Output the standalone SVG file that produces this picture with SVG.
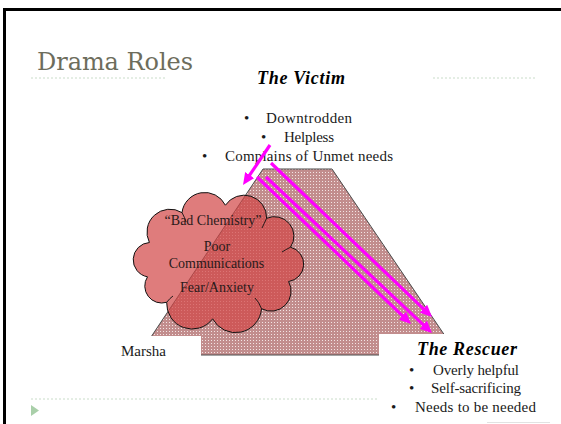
<svg xmlns="http://www.w3.org/2000/svg" width="561" height="424" viewBox="0 0 561 424">
<style>
.body{font-family:"Liberation Serif","Times New Roman",serif;font-size:15px;fill:#1a1a1a}
.head{font-family:"Liberation Serif","Times New Roman",serif;font-size:18px;font-weight:bold;font-style:italic;fill:#000}
.cl{font-family:"Liberation Serif","Times New Roman",serif;font-size:14px;fill:#2a1a1a;text-anchor:middle}
.dash{stroke:#c9dcc9;stroke-width:1;stroke-dasharray:2 2;fill:none}
.arr{stroke:#ff00ff;stroke-width:3.2;fill:none;marker-end:url(#ah)}
</style>
<defs>
<pattern id="dots" width="3" height="3" patternUnits="userSpaceOnUse">
<rect width="3" height="3" fill="#c28d8d"/>
<rect x="1" y="1" width="1" height="1" fill="#f3e4e4"/>
</pattern>
<marker id="ah" markerWidth="12" markerHeight="11" refX="2" refY="5.5" orient="auto" markerUnits="userSpaceOnUse">
<path d="M0,0 L12,5.5 L0,11 z" fill="#ff00ff"/>
</marker>
</defs>
<rect width="561" height="424" fill="#fff"/>
<path d="M4.5,424 V9.5 H561" fill="none" stroke="#000" stroke-width="3"/>
<g id="title">
<text x="37" y="70" font-family="DejaVu Serif,Liberation Serif,serif" font-size="24" fill="#6d6d5c" textLength="156">Drama Roles</text>
<line class="dash" x1="31" y1="78" x2="165" y2="78"/>
<line class="dash" x1="433" y1="78" x2="537" y2="78"/>
</g>
<g id="triangle">
<polygon points="263,169 332,169 458,355 139,355" fill="url(#dots)" stroke="#4a4a4a" stroke-width="1"/>
</g>
<g id="cloud">
<path d="M149.4,242.5 A23,23 0 0 1 182,212.6 A23,23 0 0 1 225.4,205.2 A22.5,22.5 0 0 1 266.6,218.3 A19.5,19.5 0 0 1 290.5,247.2 A17.5,17.5 0 0 1 288.6,281.5 A20,20 0 0 1 261.5,308.7 A26,26 0 0 1 212.6,318.8 A25.5,25.5 0 0 1 166.7,302.3 A17,17 0 0 1 147.5,276.8 A17.3,17.3 0 0 1 149.4,242.5 Z" fill="#d24545" fill-opacity="0.7" stroke="#111" stroke-width="1"/>
<path d="M182,212.6 Q185,218 186,222 M266.6,218.3 Q264,224 262,228 M290.5,247.2 Q285,250 282,252 M261.5,308.7 Q259,302 255,298 M166.7,302.3 Q170,298 173,296" fill="none" stroke="#111" stroke-width="0.9"/>
<text class="cl" x="213" y="225">“Bad Chemistry”</text>
<text class="cl" x="217" y="251">Poor</text>
<text class="cl" x="216.5" y="268">Communications</text>
<text class="cl" x="217" y="292">Fear/Anxiety</text>
</g>
<g id="marsha">
<rect x="100" y="336" width="101" height="30" fill="#fff"/>
<text class="body" x="121" y="356" font-size="18">Marsha</text>
</g>
<g id="victim">
<text class="head" x="257" y="84" textLength="88">The Victim</text>
<text class="body" x="244" y="123">•</text>
<text class="body" x="266" y="123" textLength="86">Downtrodden</text>
<text class="body" x="261" y="142">•</text>
<text class="body" x="284" y="142" textLength="50">Helpless</text>
<text class="body" x="202" y="161">•</text>
<text class="body" x="225" y="161" textLength="168">Complains of Unmet needs</text>
</g>
<g id="rescuer">
<rect x="379" y="334" width="166" height="86" fill="#fff"/>
<text class="head" x="417" y="355" textLength="100">The Rescuer</text>
<text class="body" x="409" y="375">•</text>
<text class="body" x="433" y="375" textLength="86">Overly helpful</text>
<text class="body" x="409" y="393">•</text>
<text class="body" x="431" y="393" textLength="90">Self-sacrificing</text>
<text class="body" x="391" y="412">•</text>
<text class="body" x="415" y="412" textLength="121">Needs to be needed</text>
</g>
<g id="footer">
<line class="dash" x1="31" y1="399" x2="378" y2="399"/>
<polygon points="31,405 39,410.5 31,416" fill="#a9cfa9"/>
<line x1="487" y1="422.5" x2="550" y2="422.5" stroke="#e2e2e2" stroke-width="1"/>
</g>
<g id="connectors">
<line class="arr" x1="270" y1="145" x2="248.6" y2="176.7"/>
<line class="arr" x1="271" y1="163" x2="424.8" y2="310.1"/>
<line class="arr" x1="266" y1="177" x2="424.7" y2="326.2"/>
<line class="arr" x1="257" y1="177" x2="403.8" y2="317.1"/>
</g>
</svg>
